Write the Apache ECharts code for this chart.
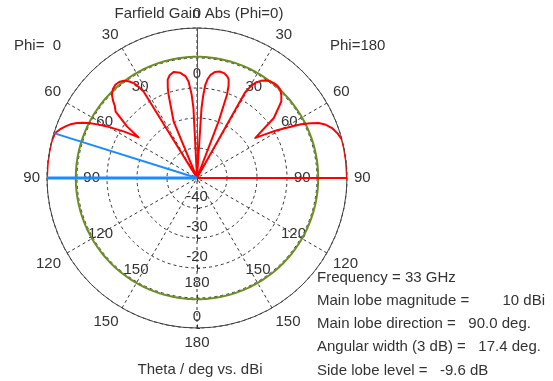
<!DOCTYPE html>
<html>
<head>
<meta charset="utf-8">
<script src="https://cdn.jsdelivr.net/npm/echarts@6/dist/echarts.min.js"></script>
<style>
  html, body { margin: 0; padding: 0; background: #fff; }
  #chart { width: 553px; height: 381px; }
</style>
</head>
<body>
<div id="chart"></div>
<script>
// Farfield gain cut, theta in degrees and gain in dBi.
// Phi = 180 half is drawn on the right, Phi = 0 half on the left.
const thetaPhi180 = [0, 3.7, 4.3, 5.1, 6.2, 7.5, 9.5, 12, 14.5, 16.5, 17.8, 18.9, 19.8, 20.9, 22,
  29.3, 30.3, 31.5, 33.2, 35.1, 37, 39, 41, 43.3, 45.5, 47.7, 49, 52, 55.5,
  57.2, 58.9, 60.3, 61.5, 62.7, 64.2, 65.7, 67.6, 69.7, 72.5, 75.2, 79, 84, 90, 91];
const gainPhi180 = [-40, -16.7, -12.5, -8.8, -6.8, -5.3, -4.2, -3.7, -3.9, -4.6, -5.5, -7.5, -10.5, -19.8, -40,
  -7.3, -4.7, -2.8, -1.3, -0.3, 0.4, 0.7, 0.8, 0.5, -0.6, -2, -3.8, -7.5, -16.4,
  -13.3, -9.5, -6.7, -4, -1, 2, 4.5, 6.5, 8, 9.2, 10, 10, 10, 10, -40];

const thetaPhi0 = [0, 2.9, 3.7, 5, 6.5, 9, 12.3, 14.8, 16.6, 17.9, 18.8, 22.5, 24,
  31.7, 32.6, 33.7, 35.3, 37, 39, 41.2, 43.4, 45.6, 47.4, 48.7, 50.8, 53.6, 55.2,
  56.5, 57.6, 60.2, 61.7, 63.1, 64.2, 65.4, 67, 68.6, 70.5, 72.4, 76, 80, 85, 90, 91];
const gainPhi0 = [-40, -16.7, -12, -7.7, -5.8, -4.5, -3.8, -4.5, -5.8, -8.3, -10.5, -19.7, -40,
  -6.1, -4, -2, -0.5, 0.6, 1.2, 1.3, 0.8, -0.3, -2, -3.5, -5, -11, -16.3,
  -13.5, -11, -5.4, -2.3, 0.5, 2.3, 4, 5.8, 7.1, 8.5, 9.6, 10, 10, 10, 10, -40];

// Summary of the cut
const frequencyGHz = 33;
const mainLobeMagnitude = 10;     // dBi
const mainLobeDirection = 90.0;   // deg
const angularWidth3dB = 17.4;     // deg
const sideLobeLevel = -9.6;       // dB relative to main lobe

// Scale: gain range and theta tick step
const gainMin = -40, gainMax = 10, gainStep = 10;
const thetaStep = 30;

const FONT = 'Liberation Sans';
const CX = 197, CY = 178, R = 150;
const DB_LABEL_DROP = 18.7;   // dB labels sit just below their ring

// Angle on the plot: right half uses theta, left half uses 360 - theta
const rightPts = thetaPhi180.map((t, i) => [gainPhi180[i], t]);
const leftPts = thetaPhi0.map((t, i) => [gainPhi0[i], 360 - t]);

// Side lobe reference circle (main lobe + side lobe level)
const sideLobeRef = mainLobeMagnitude + sideLobeLevel;
const sideLobeCircle = [];
for (let a = 0; a <= 360; a += 1) sideLobeCircle.push([sideLobeRef, a]);

const thetaLabel = v => (v >= 360 ? '' : String(v <= 180 ? v : 360 - v));

const labelStyle = { color: '#333', fontSize: 15, fontFamily: FONT };
const hiddenAngle = (idx, start) => ({
  polarIndex: idx, type: 'value', min: 0, max: 360, startAngle: start,
  axisLine: { show: false }, axisTick: { show: false },
  splitLine: { show: false }, axisLabel: { show: false }
});

const chart = echarts.init(document.getElementById('chart'), null, { renderer: 'canvas' });

chart.setOption({
  animation: false,
  backgroundColor: '#fff',
  polar: [
    { center: [CX, CY], radius: R },                   // main plot
    { center: [CX, CY + DB_LABEL_DROP], radius: R },   // dB scale labels (downward)
    { center: [CX, CY], radius: 97 },                  // inner theta labels
    { center: [CX, CY], radius: R }                    // dB scale ticks (downward)
  ],
  angleAxis: [
    {
      polarIndex: 0, type: 'value', min: 0, max: 360, interval: thetaStep,
      startAngle: 90, clockwise: true,
      axisLine: { show: true, lineStyle: { color: '#444', width: 1 } },
      axisTick: { show: false },
      splitLine: { show: true, lineStyle: { color: '#333', width: 1, type: [3, 3] } },
      axisLabel: Object.assign({ margin: 7, formatter: thetaLabel }, labelStyle)
    },
    hiddenAngle(1, 270),
    {
      polarIndex: 2, type: 'value', min: 0, max: 360, interval: thetaStep,
      startAngle: 90, clockwise: true,
      axisLine: { show: false }, axisTick: { show: false }, splitLine: { show: false },
      axisLabel: Object.assign({ margin: 0, formatter: thetaLabel }, labelStyle)
    },
    hiddenAngle(3, 270)
  ],
  radiusAxis: [
    {
      polarIndex: 0, type: 'value', min: gainMin, max: gainMax, interval: gainStep,
      axisLine: { show: true, lineStyle: { color: '#555', width: 1 } },
      axisTick: { show: false },
      axisLabel: { show: false },
      splitLine: { show: true, lineStyle: { color: '#333', width: 1, type: [3, 3] } }
    },
    {
      polarIndex: 1, type: 'value', min: gainMin, max: gainMax, interval: gainStep,
      axisLine: { show: false }, axisTick: { show: false }, splitLine: { show: false },
      axisLabel: Object.assign({
        margin: 0, align: 'center', verticalAlign: 'middle', showMinLabel: true,
        // -10 and 10 sit under the theta labels and are left out
        formatter: v => (v === -10 || v === 10 ? '' : String(v))
      }, labelStyle)
    },
    {
      polarIndex: 2, type: 'value', min: gainMin, max: gainMax,
      axisLine: { show: false }, axisTick: { show: false },
      axisLabel: { show: false }, splitLine: { show: false }
    },
    {
      polarIndex: 3, type: 'value', min: gainMin, max: gainMax, interval: gainStep,
      axisLine: { show: true, lineStyle: { color: '#333', width: 1, type: [6, 24], dashOffset: 3 } },
      axisTick: { show: true, length: 3, lineStyle: { color: '#333' } },
      axisLabel: { show: false }, splitLine: { show: false }
    }
  ],
  series: [
    {
      name: 'Side lobe level', type: 'line', coordinateSystem: 'polar', polarIndex: 0,
      data: sideLobeCircle, symbol: 'none', clip: false, silent: true,
      lineStyle: { color: '#6b8e23', width: 2 }, z: 3
    },
    {
      name: 'Phi=180', type: 'line', coordinateSystem: 'polar', polarIndex: 0,
      data: rightPts, symbol: 'none', clip: false,
      lineStyle: { color: '#ff0000', width: 2, join: 'round' }, z: 4
    },
    {
      name: 'Phi=0', type: 'line', coordinateSystem: 'polar', polarIndex: 0,
      data: leftPts, symbol: 'none', clip: false,
      lineStyle: { color: '#ff0000', width: 2, join: 'round' }, z: 4
    },
    {
      name: 'Main lobe direction', type: 'line', coordinateSystem: 'polar', polarIndex: 0,
      data: [[gainMin, 360 - mainLobeDirection], [mainLobeMagnitude, 360 - mainLobeDirection]],
      symbol: 'none', clip: false, lineStyle: { color: '#1a8cff', width: 3 }, z: 5
    },
    {
      name: '3 dB width', type: 'line', coordinateSystem: 'polar', polarIndex: 0,
      data: [[gainMin, 360 - (mainLobeDirection - angularWidth3dB)],
             [mainLobeMagnitude, 360 - (mainLobeDirection - angularWidth3dB)]],
      symbol: 'none', clip: false, lineStyle: { color: '#1a8cff', width: 2 }, z: 5
    }
  ],
  graphic: (function () {
    const txt = (text, x, y, align) => ({
      type: 'text', z: 10, silent: true,
      style: { text, x, y, fill: '#333', font: '15px "' + FONT + '"', align: align || 'left', verticalAlign: 'middle' }
    });
    const info = [
      'Frequency = ' + frequencyGHz + ' GHz',
      'Main lobe magnitude =        ' + mainLobeMagnitude + ' dBi',
      'Main lobe direction =   ' + mainLobeDirection.toFixed(1) + ' deg.',
      'Angular width (3 dB) =   ' + angularWidth3dB.toFixed(1) + ' deg.',
      'Side lobe level =   ' + sideLobeLevel.toFixed(1) + ' dB'
    ];
    const els = [
      txt('Farfield Gain Abs (Phi=0)', 199, 14, 'center'),
      txt('Phi=  0', 14, 46, 'left'),
      txt('Phi=180', 330, 46, 'left'),
      txt('Theta / deg vs. dBi', 200, 370, 'center')
    ];
    info.forEach((s, i) => els.push(txt(s, 317, 278 + i * 23.1, 'left')));
    return els;
  })()
});
</script>
</body>
</html>
